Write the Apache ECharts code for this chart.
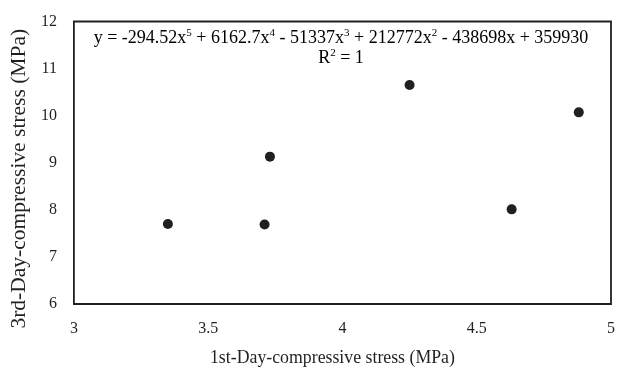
<!DOCTYPE html>
<html>
<head>
<meta charset="utf-8">
<script src="https://cdn.jsdelivr.net/npm/echarts@6/dist/echarts.min.js"></script>
<style>
  html, body { margin: 0; padding: 0; background: #fff; }
  #chart { width: 618px; height: 372px; }
</style>
</head>
<body>
<div id="chart"></div>
<script>
// 1st-day vs 3rd-day compressive stress (MPa)
const firstDay = [3.35, 3.71, 3.73, 4.25, 4.63, 4.88];
const thirdDay = [7.70, 7.69, 9.13, 10.65, 8.01, 10.07];

const xTicks = { min: 3, max: 5, step: 0.5 };
const yTicks = { min: 6, max: 12, step: 1 };

const xTitle = '1st-Day-compressive stress (MPa)';
const yTitle = '3rd-Day-compressive stress (MPa)';

// Polynomial trendline equation, rendered with superscript exponents
const equationLine = '{n|y = -294.52x}{s|5}{n| + 6162.7x}{s|4}{n| - 51337x}{s|3}{n| + 212772x}{s|2}{n| - 438698x + 359930}';
const rSquaredLine = '{n|R}{s|2}{n| = 1}';

const ink = '#231f20';
const serif = '"Liberation Serif", "Times New Roman", serif';

const points = firstDay.map((x, i) => [x, thirdDay[i]]);

const chart = echarts.init(document.getElementById('chart'), null, { renderer: 'canvas' });

const richText = {
  n: { fontFamily: serif, fontSize: 18, color: ink, lineHeight: 20, verticalAlign: 'bottom' },
  s: { fontFamily: serif, fontSize: 11, color: ink, lineHeight: 20, verticalAlign: 'top' }
};

function centeredLine(text, y) {
  return {
    type: 'text',
    x: 341,
    y: y,
    z: 10,
    style: { text: text, rich: richText, align: 'center', verticalAlign: 'middle' }
  };
}

chart.setOption({
  backgroundColor: '#ffffff',
  animation: false,
  textStyle: { fontFamily: serif, color: ink },
  grid: {
    left: 72, right: 5, top: 21.5, bottom: 63,
    show: true, borderColor: ink, borderWidth: 1.8, backgroundColor: 'transparent'
  },
  xAxis: {
    type: 'value',
    min: xTicks.min, max: xTicks.max, interval: xTicks.step,
    axisLine: { show: false },
    axisTick: { show: false },
    splitLine: { show: false },
    axisLabel: { fontFamily: serif, fontSize: 16, color: ink, margin: 17 },
    name: xTitle,
    nameLocation: 'middle',
    nameGap: 45,
    nameTextStyle: { fontFamily: serif, fontSize: 17.8, color: ink, padding: [0, 20, 0, 0] }
  },
  yAxis: {
    type: 'value',
    min: yTicks.min, max: yTicks.max, interval: yTicks.step,
    axisLine: { show: false },
    axisTick: { show: false },
    splitLine: { show: false },
    axisLabel: { fontFamily: serif, fontSize: 16, color: ink, margin: 17 },
    name: yTitle,
    nameLocation: 'middle',
    nameGap: 43,
    nameTextStyle: { fontFamily: serif, fontSize: 21.5, color: ink, padding: [0, 32, 0, 0] }
  },
  series: [{
    type: 'scatter',
    data: points,
    symbol: 'circle',
    symbolSize: 10,
    itemStyle: { color: ink, opacity: 1 }
  }],
  graphic: [
    centeredLine(equationLine, 37.5),
    centeredLine(rSquaredLine, 57.5)
  ]
});
</script>
</body>
</html>
